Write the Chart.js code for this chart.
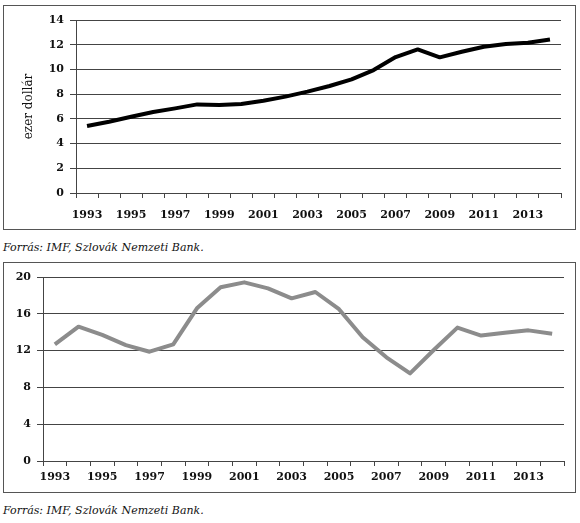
<!DOCTYPE html>
<html>
<head>
<meta charset="utf-8">
<script src="https://cdn.jsdelivr.net/npm/chart.js@4"></script>
<style>
  body { margin: 0; background: #fff; width: 580px; height: 523px; position: relative; overflow: hidden; }
  .frame { position: absolute; left: 3px; width: 571px; border: 1px solid #555; }
  .frame canvas { display: block; }
  .caption { position: absolute; left: 3px; font: italic 11px "DejaVu Serif", "Liberation Serif", serif; color: #111; }
</style>
</head>
<body>
<div class="frame" style="top:5px; height:223px;"><canvas id="gdpChart" width="571" height="223"></canvas></div>
<div class="caption" style="top:241px;">Forrás: IMF, Szlovák Nemzeti Bank.</div>
<div class="frame" style="top:262px; height:229px;"><canvas id="invChart" width="571" height="229"></canvas></div>
<div class="caption" style="top:504px;">Forrás: IMF, Szlovák Nemzeti Bank.</div>

<script>
// --- adatok ---
const years = ['1993','1994','1995','1996','1997','1998','1999','2000','2001','2002','2003',
               '2004','2005','2006','2007','2008','2009','2010','2011','2012','2013','2014'];

// GDP / fő, ezer dollár
const gdpValues = [5.42, 5.77, 6.17, 6.55, 6.85, 7.17, 7.12, 7.2, 7.47, 7.8, 8.2,
                   8.66, 9.2, 9.95, 11.0, 11.62, 10.98, 11.43, 11.84, 12.06, 12.16, 12.43];

// második görbe
const secondValues = [12.68, 14.6, 13.7, 12.6, 11.88, 12.68, 16.6, 18.88, 19.42, 18.77, 17.68,
                      18.37, 16.5, 13.45, 11.27, 9.53, 12.07, 14.5, 13.63, 13.95, 14.2, 13.84];

const gdpTicks = { min: 0, max: 14, step: 2 };
const secondTicks = { min: 0, max: 20, step: 4 };

const serif = '"DejaVu Serif", "Liberation Serif", serif';
const tickFont = { family: serif, size: 11, weight: 'bold' };
const gridColor = '#444';

function xAxis(labelPad, height) {
    return {
        offset: true,
        grid: { offset: true, drawOnChartArea: false, drawTicks: true, tickLength: 5, color: gridColor },
        border: { color: gridColor },
        ticks: {
            autoSkip: false, maxRotation: 0, padding: labelPad, color: '#111', font: tickFont,
            callback: function(val, i) { return i % 2 === 0 ? this.getLabelForValue(val) : ''; }
        },
        afterFit: axis => { axis.height = height; }
    };
}

function yAxis(t, width, extra) {
    return Object.assign({
        min: t.min, max: t.max,
        grid: { color: gridColor, lineWidth: 1, tickLength: 6 },
        border: { color: gridColor },
        ticks: { stepSize: t.step, padding: 6, color: '#111', font: tickFont },
        afterFit: axis => { axis.width = width; }
    }, extra || {});
}

// felső grafikon
new Chart(document.getElementById('gdpChart'), {
    type: 'line',
    data: {
        labels: years,
        datasets: [{
            data: gdpValues,
            borderColor: '#000',
            borderWidth: 4,
            pointRadius: 0,
            tension: 0,
            borderJoinStyle: 'round'
        }]
    },
    options: {
        responsive: false,
        animation: false,
        layout: { padding: { top: 14, right: 14, left: 0, bottom: 0 } },
        plugins: { legend: { display: false }, tooltip: { enabled: false } },
        scales: {
            x: xAxis(11, 36),
            y: yAxis(gdpTicks, 72, {
                title: {
                    display: true, text: 'ezer dollár', color: '#111',
                    font: { family: serif, size: 12 },
                    padding: { top: 18, bottom: 0 }
                }
            })
        }
    }
});

// alsó grafikon
new Chart(document.getElementById('invChart'), {
    type: 'line',
    data: {
        labels: years,
        datasets: [{
            data: secondValues,
            borderColor: '#8c8c8c',
            borderWidth: 4,
            pointRadius: 0,
            tension: 0,
            borderJoinStyle: 'round'
        }]
    },
    options: {
        responsive: false,
        animation: false,
        layout: { padding: { top: 14, right: 11, left: 0, bottom: 0 } },
        plugins: { legend: { display: false }, tooltip: { enabled: false } },
        scales: {
            x: xAxis(5, 31),
            y: yAxis(secondTicks, 39)
        }
    }
});
</script>
</body>
</html>
